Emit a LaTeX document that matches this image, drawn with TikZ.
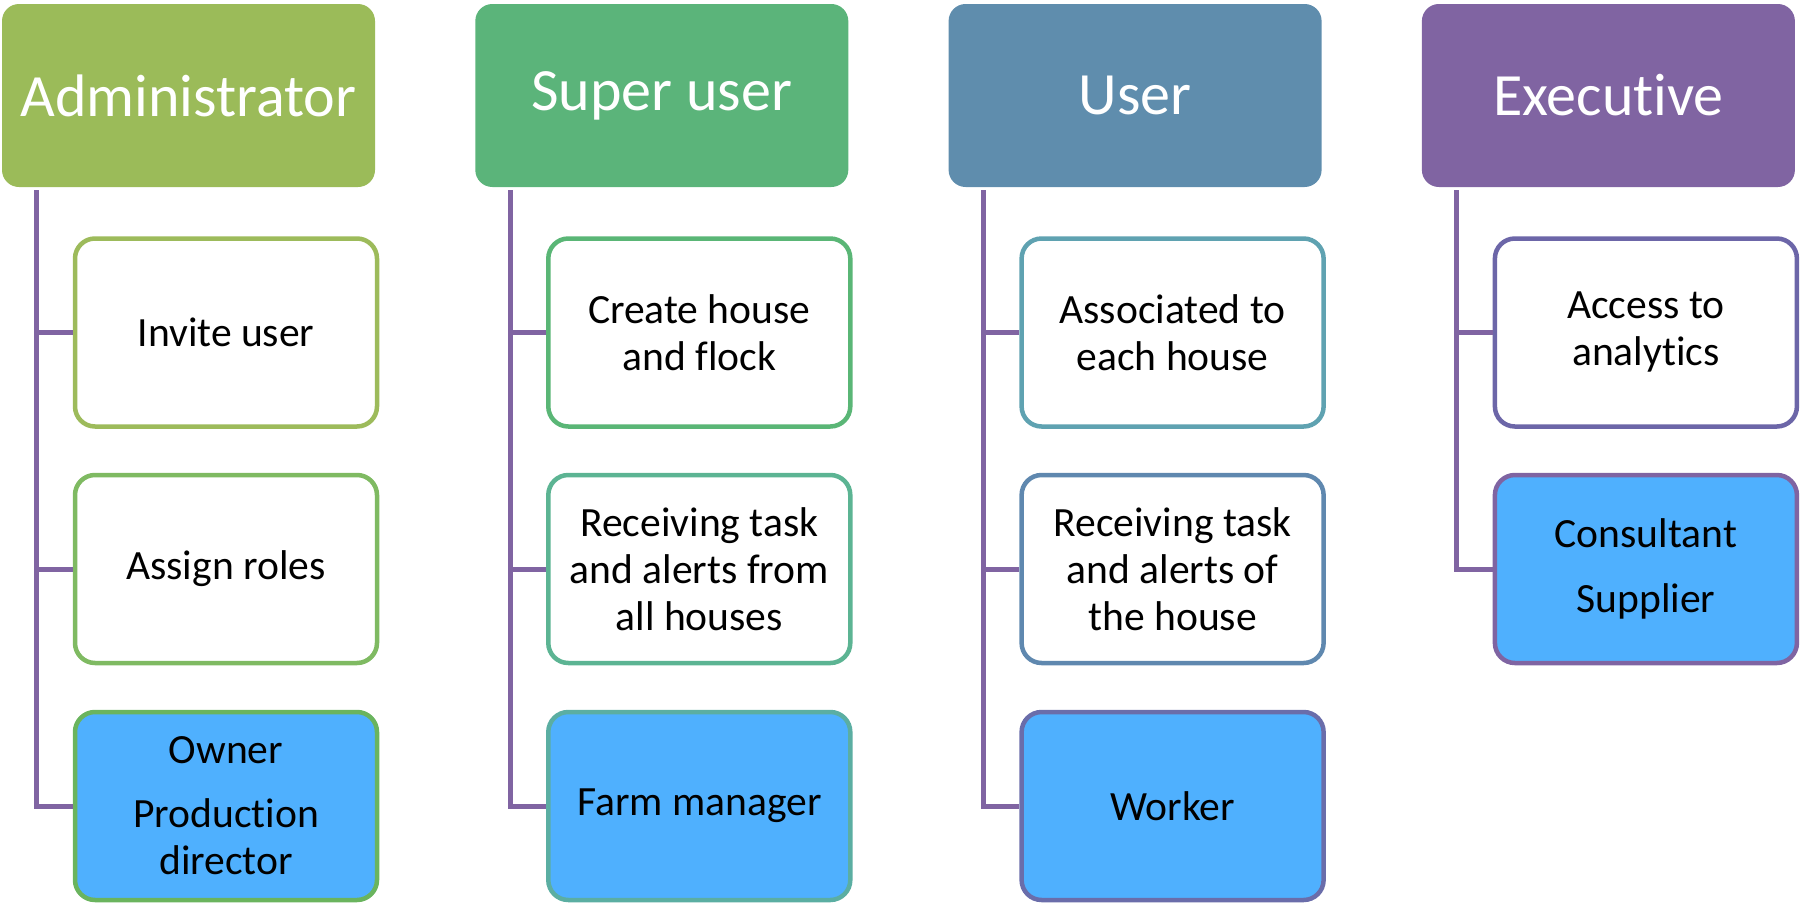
\documentclass[tikz,border=0pt]{standalone}
\usepackage{fontspec}
\setmainfont{Carlito}[Ligatures={NoCommon}]

\definecolor{adminhead}{HTML}{9BBB59}
\definecolor{superhead}{HTML}{5BB47A}
\definecolor{userhead}{HTML}{5F8DAD}
\definecolor{exechead}{HTML}{8064A2}
\definecolor{rolefill}{HTML}{4FB0FE}
\definecolor{trunkline}{HTML}{8064A2}
% box borders, one per box
\definecolor{aline1}{HTML}{9DBB5B}
\definecolor{aline2}{HTML}{7FBA62}
\definecolor{aline3}{HTML}{6AB45E}
\definecolor{bline1}{HTML}{5AB676}
\definecolor{bline2}{HTML}{5CB493}
\definecolor{bline3}{HTML}{5BAEA2}
\definecolor{cline1}{HTML}{5FA2B1}
\definecolor{cline2}{HTML}{5F88AF}
\definecolor{cline3}{HTML}{6A6DAA}
\definecolor{dline1}{HTML}{6C66A8}
\definecolor{dline2}{HTML}{7F64A2}

\begin{document}
\begin{tikzpicture}[x=1pt,y=-1pt,
    head/.style={rectangle, rounded corners=17pt, inner sep=0pt,
        minimum width=373pt, minimum height=183pt, text=white,
        font=\fontsize{60}{70}\selectfont},
    task/.style={rectangle, rounded corners=20pt, draw=#1, line width=4.5pt,
        fill=white, inner sep=0pt, minimum width=302pt, minimum height=188pt,
        align=center, font=\fontsize{41.6}{47}\selectfont},
    role/.style={task=#1, fill=rolefill},
    trunk/.style={draw=trunkline, line width=5pt}]
\useasboundingbox (0,0) rectangle (1802,905);

% Headers
\node[head, fill=adminhead] (ah) at (188.5,95.5) {Administrator};
\node[head, fill=superhead] (bh) at (661.8,95.5) {Super user};
\node[head, fill=userhead] (ch) at (1135.1,95.5) {User};
\node[head, fill=exechead] (dh) at (1608.4,95.5) {Executive};

% Administrator
\node[task=aline1] (a1) at (226,332.5) {Invite user};
\node[task=aline2] (a2) at (226,569) {Assign roles};
\node[role=aline3] (a3) at (226,806) {Owner\\[17pt]Production\\director};

% Super user
\node[task=bline1] (b1) at (699.3,332.5) {Create house\\and flock};
\node[task=bline2] (b2) at (699.3,569) {Receiving task\\and alerts from\\all houses};
\node[role=bline3] (b3) at (699.3,806) {Farm manager};

% User
\node[task=cline1] (c1) at (1172.6,332.5) {Associated to\\each house};
\node[task=cline2] (c2) at (1172.6,569) {Receiving task\\and alerts of\\the house};
\node[role=cline3] (c3) at (1172.6,806) {Worker};

% Executive
\node[task=dline1] (d1) at (1645.9,332.5) {Access to\\analytics};
\node[role=dline2] (d2) at (1645.9,569) {Consultant\\[18pt]Supplier};

% Trunks and branches
\foreach \c/\n in {a/3,b/3,c/3,d/2} {
    \draw[trunk] (\c h.south west) ++(35,3) |- (\c\n.west);
    \pgfmathtruncatemacro{\last}{\n-1}
    \foreach \k in {1,...,\last} {
        \draw[trunk] (\c\k.west) -- ++(-38,0);
    }
}
\end{tikzpicture}
\end{document}
